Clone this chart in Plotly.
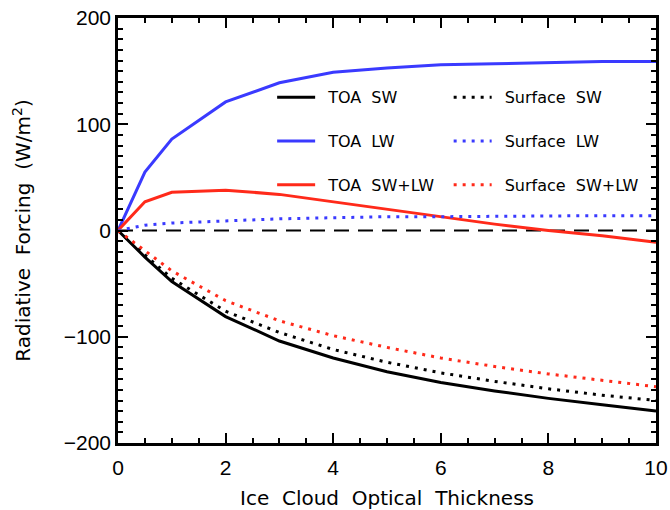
import plotly.graph_objects as go

tau = [0, 0.5, 1, 2, 3, 4, 5, 6, 7, 8, 9, 10]
toa_sw = [0, -25, -48, -81, -104, -120, -133, -143, -151, -158, -164, -170]
toa_lw = [0, 55, 86, 121, 139, 149, 153, 156, 157, 158, 159, 159]
toa_net = [0, 27, 36, 38, 34, 27, 20, 13, 6, 0, -5, -11]
sfc_sw = [0, -23, -45, -76, -96, -112, -124, -134, -142, -149, -155, -160]
sfc_lw = [0, 5, 7, 9, 11, 12, 13, 13, 13.5, 13.5, 14, 14]
sfc_net = [0, -19, -38, -66, -85, -99, -110, -120, -128, -135, -141, -147]

BLACK = "#000000"
BLUE = "#3a3aff"
RED = "#ff2a1a"
FONT = "DejaVu Sans"
TICKFONT = "Liberation Sans"
DOT = "3px,6px"
SP = "\u00a0\u00a0"
LEAD = "\u2002"

fig = go.Figure()

# zero reference line
fig.add_trace(go.Scatter(x=[tau[0], tau[-1]], y=[0, 0], mode="lines",
                         line=dict(color=BLACK, width=1.8, dash="15px,9px"),
                         showlegend=False, hoverinfo="skip"))

series = [
    ("TOA" + SP + "SW", toa_sw, BLACK, "solid", "legend"),
    ("TOA" + SP + "LW", toa_lw, BLUE, "solid", "legend"),
    ("TOA" + SP + "SW+LW", toa_net, RED, "solid", "legend"),
    ("Surface" + SP + "SW", sfc_sw, BLACK, DOT, "legend2"),
    ("Surface" + SP + "LW", sfc_lw, BLUE, DOT, "legend2"),
    ("Surface" + SP + "SW+LW", sfc_net, RED, DOT, "legend2"),
]
for i, (name, vals, col, dash, lg) in enumerate(series):
    fig.add_trace(go.Scatter(x=tau, y=vals, mode="lines", name=LEAD + name,
                             line=dict(color=col, width=3, dash=dash),
                             legend=lg, legendgroup=name))

axis_common = dict(showline=True, linecolor=BLACK, linewidth=2.5, mirror="ticks",
                   ticks="inside", ticklen=10, tickwidth=2, tickcolor=BLACK,
                   showgrid=False, zeroline=False, automargin=False,
                   tickfont=dict(family=TICKFONT, size=21, color=BLACK))

legend_common = dict(bgcolor="rgba(0,0,0,0)", borderwidth=0,
                     font=dict(family=FONT, size=16, color=BLACK),
                     itemwidth=38, tracegroupgap=20, traceorder="grouped",
                     xanchor="left", yanchor="top")

fig.update_layout(
    width=670, height=510,
    margin=dict(l=118, r=14, t=18, b=67),
    paper_bgcolor="white", plot_bgcolor="white",
    font=dict(family=FONT, color=BLACK),
    xaxis=dict(range=[0, 10], dtick=2, tick0=0, ticklabelstandoff=4,
               minor=dict(dtick=0.5, ticks="inside", ticklen=5, tickwidth=1.5, tickcolor=BLACK),
               title=dict(text="Ice" + SP + "Cloud" + SP + "Optical" + SP + "Thickness",
                          font=dict(family=FONT, size=20), standoff=14),
               **axis_common),
    yaxis=dict(range=[-200, 200], dtick=100, tick0=0,
               minor=dict(dtick=10, ticks="inside", ticklen=5, tickwidth=1.5, tickcolor=BLACK),
               title=dict(text="Radiative" + SP + "Forcing" + SP + "(W/m<sup>2</sup>)",
                          font=dict(family=FONT, size=20), standoff=28),
               **axis_common),
    legend=dict(x=0.2865, y=0.8535, **legend_common),
    legend2=dict(x=0.6146, y=0.8535, **legend_common),
)

fig.write_html("out.html")
